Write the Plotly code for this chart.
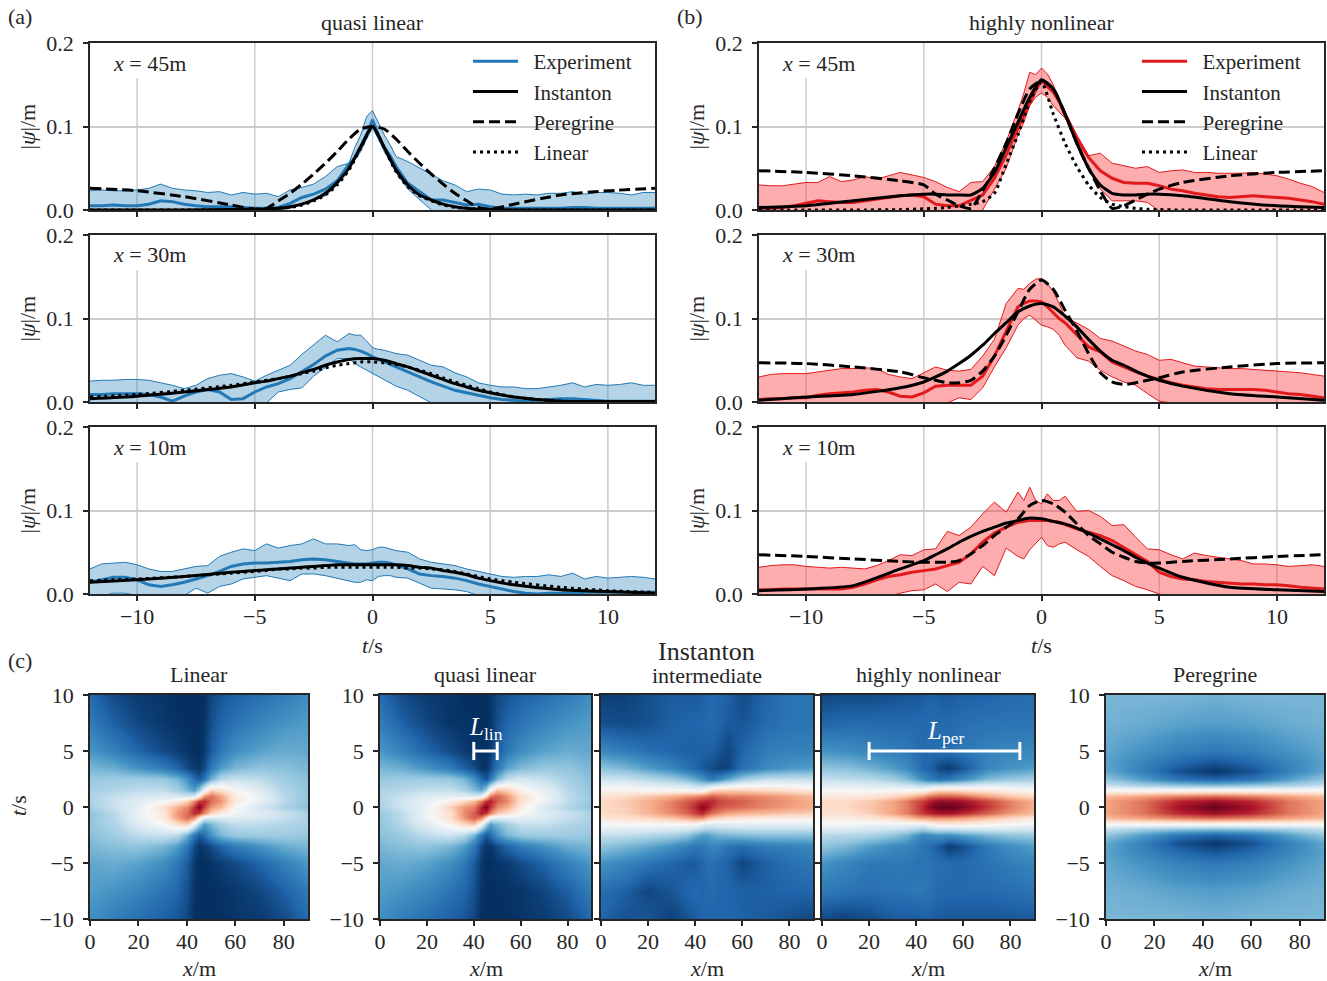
import numpy as np
import plotly.graph_objects as go

W, H = 1327, 981

# time grid of the measured curves (finer around the peak)
T_EXP = [-12, -11.5, -11, -10.5, -10, -9.5, -9, -8.5, -8, -7.5, -7, -6.5, -6, -5.5, -5, -4.5, -4, -3.5, -3, -2.5, -2,
         -1.5, -1, -0.75, -0.5, -0.25, 0, 0.25, 0.5, 0.75, 1, 1.5,
         2, 2.5, 3, 3.5, 4, 4.5, 5, 5.5, 6, 6.5, 7, 7.5, 8, 8.5, 9, 9.5, 10, 10.5, 11, 11.5, 12]
# time grid of the smooth model curves
T_MOD = [-12, -10, -8, -6, -5, -4.5, -4, -3.5, -3, -2.5, -2, -1.5, -1, -0.5, 0,
         0.5, 1, 1.5, 2, 2.5, 3, 3.5, 4, 4.5, 5, 6, 8, 10, 12]

# (a) quasi linear, x = 45m
A45_UP = [.023, .024, .023, .023, .024, .026, .031, .026, .024, .023, .021, .022, .018, .021, .019, .020, .016, .024, .027, .031, .040,
          .052, .056, .075, .090, .112, .119, .105, .090, .078, .064, .058,
          .050, .042, .035, .030, .022, .025, .024, .019, .018, .019, .018, .020, .020, .022, .019, .021, .021, .020, .018, .021, .021]
A45_LO = [-.003, -.003, -.003, -.003, -.003, -.003, -.003, -.003, -.003, -.003, -.003, -.003, -.003, -.003, -.003, -.003, .000, .002, .006, .012, .017,
          .030, .050, .060, .070, .085, .098, .085, .070, .058, .045, .025,
          .012, .000, -.003, -.003, -.003, -.003, -.003, -.003, -.003, -.003, -.003, -.003, -.003, -.003, -.003, -.003, -.003, -.003, -.003, -.003, -.003]
A45_EXP = [.005, .005, .006, .005, .005, .007, .011, .010, .007, .005, .004, .004, .004, .003, .002, .002, .003, .008, .015, .019, .025,
           .035, .055, .062, .075, .090, .108, .090, .075, .065, .052, .032,
           .022, .012, .012, .009, .006, .007, .004, .002, .002, .002, .002, .002, .002, .003, .003, .002, .002, .002, .002, .002, .002]
A45_INST = [.000, .000, .000, .0005, .001, .001, .002, .004, .007, .012, .020, .033, .050, .076, .100,
            .075, .048, .030, .018, .012, .007, .004, .002, .001, .0005, .000, .000, .000, .000]
A45_PER = [.026, .023, .016, .006, .001, .002, .011, .020, .031, .043, .056, .070, .085, .097, .100,
           .097, .085, .070, .056, .043, .031, .020, .011, .003, .001, .007, .018, .023, .026]
A45_LIN = [.000, .000, .000, .0005, .001, .001, .002, .003, .006, .011, .018, .030, .048, .074, .100,
           .074, .046, .028, .017, .011, .006, .003, .002, .001, .0005, .000, .000, .000, .000]

# (a) quasi linear, x = 30m
A30_UP = [.025, .026, .026, .027, .027, .026, .023, .020, .016, .020, .028, .032, .034, .030, .025, .032, .038, .044, .057, .068, .080,
          .072, .082, .080, .080, .073, .065, .063, .062, .060, .058, .056,
          .050, .044, .042, .035, .030, .023, .020, .018, .018, .016, .016, .018, .020, .023, .018, .021, .020, .021, .023, .020, .020]
A30_LO = [-.003, -.003, -.003, -.003, -.003, -.003, -.003, -.003, -.003, -.003, -.003, -.003, -.003, -.003, -.003, -.001, .012, .015, .017, .031, .041,
          .052, .052, .046, .042, .038, .034, .030, .026, .022, .019, .014,
          .007, -.001, -.003, -.003, -.003, -.003, -.003, -.003, -.003, -.003, -.003, -.003, -.003, -.003, -.003, -.003, -.003, -.003, -.003, -.003, -.003]
A30_EXP = [.009, .009, .010, .010, .010, .009, .006, .001, .007, .012, .015, .012, .003, .004, .012, .018, .022, .028, .036, .045, .055,
           .062, .064, .063, .061, .058, .054, .051, .048, .045, .042, .036,
           .030, .024, .019, .014, .011, .008, .005, .003, .002, .001, .002, .003, .004, .004, .003, .002, .001, .001, .001, .001, .001]
A30_INST = [.004, .007, .012, .018, .023, .025, .028, .031, .035, .039, .044, .048, .051, .052, .052,
            .050, .046, .042, .037, .032, .027, .022, .018, .014, .011, .006, .001, .0005, .0005]
A30_LIN = [.006, .009, .014, .020, .024, .026, .028, .031, .034, .037, .041, .044, .046, .048, .048,
           .047, .045, .042, .038, .034, .029, .024, .020, .016, .012, .006, .001, .0003, .0003]

# (a) quasi linear, x = 10m
A10_UP = [.030, .036, .037, .038, .035, .030, .027, .027, .030, .033, .034, .045, .050, .054, .052, .060, .055, .058, .060, .066, .060,
          .060, .058, .059, .053, .052, .053, .056, .056, .054, .052, .050,
          .042, .038, .036, .034, .030, .027, .024, .021, .020, .021, .021, .023, .021, .025, .018, .021, .019, .020, .021, .020, .018]
A10_LO = [-.002, -.002, .001, .001, -.002, -.003, -.003, -.003, -.002, .007, .001, .009, .012, .018, .020, .022, .019, .016, .024, .024, .022,
          .019, .016, .014, .014, .017, .016, .021, .022, .022, .020, .019,
          .013, .007, .006, .005, .003, -.002, -.003, -.003, -.003, -.003, -.003, -.003, -.003, -.003, -.003, -.003, -.003, -.003, -.003, -.003, -.003]
A10_EXP = [.014, .017, .020, .020, .017, .011, .009, .011, .014, .018, .022, .027, .033, .036, .037, .037, .038, .039, .041, .042, .041,
           .039, .037, .036, .036, .036, .037, .038, .038, .037, .035, .030,
           .024, .022, .021, .019, .016, .012, .009, .006, .003, .001, .000, .001, .001, .001, .002, .002, .002, .002, .002, .002, .002]
A10_INST = [.014, .017, .021, .026, .028, .029, .030, .031, .032, .033, .034, .035, .035, .035, .035,
            .035, .035, .034, .032, .031, .028, .026, .023, .019, .016, .011, .005, .003, .001]
A10_LIN = [.016, .018, .021, .025, .027, .028, .030, .030, .031, .031, .032, .032, .032, .032, .032,
           .032, .032, .031, .031, .030, .029, .027, .024, .021, .018, .014, .008, .004, .002]

# (b) highly nonlinear, x = 45m
B45_UP = [.030, .029, .029, .031, .033, .033, .040, .034, .036, .040, .037, .041, .045, .042, .039, .034, .027, .022, .033, .034, .052,
          .082, .119, .140, .165, .162, .170, .163, .150, .132, .118, .090,
          .065, .068, .056, .053, .050, .052, .045, .047, .048, .045, .045, .044, .044, .044, .045, .043, .041, .037, .032, .028, .021]
B45_LO = [-.003, -.003, -.003, -.003, -.003, -.003, -.003, -.003, -.003, -.003, -.003, -.003, -.003, -.003, -.003, -.003, -.003, -.003, -.003, .000, .025,
          .050, .090, .105, .125, .135, .140, .135, .125, .118, .110, .085,
          .050, .025, .011, .011, .011, .009, -.001, -.003, -.003, -.003, -.003, -.003, -.003, -.003, -.003, -.003, -.003, -.003, -.003, -.003, -.003]
B45_EXP = [.002, .002, .003, .005, .008, .011, .010, .009, .009, .011, .013, .015, .017, .018, .016, .007, .005, .005, .012, .018, .038,
           .066, .098, .112, .128, .143, .155, .148, .141, .130, .114, .086,
           .063, .047, .038, .033, .032, .032, .029, .025, .023, .020, .018, .016, .015, .016, .017, .016, .015, .014, .012, .010, .007]
B45_INST = [.003, .005, .011, .017, .019, .019, .018, .018, .018, .026, .045, .075, .105, .135, .156,
            .145, .115, .080, .050, .030, .020, .018, .018, .019, .019, .017, .010, .005, .003]
B45_PER = [.047, .045, .041, .035, .030, .019, .012, .005, .002, .023, .050, .080, .115, .145, .155,
           .145, .115, .080, .050, .023, .002, .005, .012, .019, .025, .033, .041, .045, .047]
B45_LIN = [.000, .000, .000, .0005, .0015, .002, .003, .005, .007, .010, .020, .055, .090, .130, .153,
           .115, .080, .052, .030, .015, .007, .004, .002, .001, .0005, .000, .000, .000, .000]

# (b) highly nonlinear, x = 30m
B30_UP = [.030, .033, .034, .034, .034, .036, .038, .040, .040, .041, .040, .033, .030, .028, .035, .042, .038, .037, .039, .055, .075,
          .118, .136, .135, .142, .147, .148, .142, .132, .118, .102, .095,
          .087, .076, .073, .067, .061, .057, .050, .051, .047, .043, .042, .041, .040, .040, .039, .038, .037, .036, .035, .033, .031]
B30_LO = [-.003, -.003, -.003, -.003, -.003, -.003, -.003, -.003, -.003, -.003, -.003, -.003, -.003, -.003, -.003, -.003, -.001, .005, .003, .017, .042,
          .065, .092, .100, .104, .098, .092, .090, .087, .080, .068, .053,
          .049, .038, .030, .024, .020, .010, .001, -.001, -.003, -.003, -.003, -.003, -.003, -.003, -.003, -.003, -.003, -.003, -.003, -.003, -.003]
B30_EXP = [.003, .004, .004, .005, .005, .008, .010, .011, .012, .014, .015, .012, .007, .006, .011, .019, .020, .020, .020, .031, .055,
           .085, .114, .118, .121, .121, .120, .114, .107, .100, .095, .080,
           .066, .060, .048, .042, .036, .031, .027, .023, .020, .018, .016, .015, .015, .015, .015, .014, .012, .010, .009, .007, .005]
B30_INST = [.002, .006, .009, .017, .024, .030, .037, .046, .056, .068, .082, .095, .108, .115, .118,
            .114, .103, .090, .075, .061, .050, .044, .037, .031, .026, .019, .010, .006, .002]
B30_PER = [.047, .046, .042, .036, .029, .026, .023, .023, .026, .037, .055, .080, .108, .135, .146,
           .135, .110, .085, .058, .035, .024, .021, .023, .026, .029, .036, .042, .046, .047]

# (b) highly nonlinear, x = 10m
B10_UP = [.032, .034, .035, .035, .033, .032, .031, .032, .031, .030, .034, .040, .047, .046, .053, .054, .075, .070, .080, .096, .110,
          .098, .122, .112, .128, .112, .108, .120, .112, .112, .117, .099,
          .100, .093, .082, .083, .068, .054, .053, .047, .042, .049, .046, .044, .042, .040, .036, .036, .035, .033, .034, .035, .033]
B10_LO = [-.003, -.003, -.003, -.003, -.003, -.003, -.003, -.003, -.003, -.003, -.003, -.003, .001, .004, .005, .012, .003, .014, .012, .033, .022,
          .055, .045, .042, .053, .060, .068, .058, .056, .060, .062, .053,
          .045, .033, .022, .016, .009, .005, .000, -.003, -.003, -.003, -.003, -.003, -.003, -.003, -.003, -.003, -.003, -.003, -.003, -.003, -.003]
B10_EXP = [.005, .005, .006, .006, .006, .006, .006, .006, .008, .012, .017, .021, .023, .026, .028, .030, .034, .038, .048, .062, .073,
           .080, .086, .087, .088, .088, .088, .088, .087, .086, .083, .078,
           .074, .070, .064, .056, .047, .039, .026, .021, .018, .017, .015, .014, .013, .012, .012, .011, .011, .010, .008, .007, .006]
B10_INST = [.004, .006, .010, .030, .040, .047, .054, .062, .069, .075, .080, .085, .088, .091, .090,
            .087, .084, .079, .073, .066, .059, .052, .044, .037, .031, .020, .008, .005, .003]
B10_PER = [.047, .045, .042, .039, .038, .038, .038, .040, .048, .058, .070, .080, .090, .106, .112,
           .108, .098, .084, .070, .060, .050, .044, .039, .037, .037, .039, .042, .045, .047]

# field maps, rows from t = 10 down to t = -10
X_MAP = [0, 10, 20, 30, 36, 40, 43, 45, 47, 50, 54, 60, 70, 80, 90]
T_MAP = [10, 7.5, 5, 3.5, 2.5, 1.5, 1, 0.5, 0, -0.5, -1, -1.5, -2.5, -3.5, -5, -7.5, -10]

Z_LINEAR = [
    [.11, .05, .02, .01, .00, .00, .00, .00, .00, .04, .07, .09, .12, .15, .19],
    [.15, .09, .04, .015, .005, .00, .00, .00, .01, .06, .10, .13, .17, .20, .22],
    [.21, .16, .10, .05, .025, .01, .00, .00, .02, .08, .14, .19, .23, .25, .24],
    [.27, .25, .20, .15, .10, .05, .02, .01, .05, .14, .22, .27, .30, .29, .27],
    [.31, .32, .32, .31, .27, .20, .12, .08, .14, .26, .36, .39, .37, .32, .29],
    [.33, .35, .37, .37, .33, .27, .22, .32, .46, .62, .58, .50, .43, .35, .30],
    [.34, .38, .41, .43, .42, .40, .42, .55, .72, .78, .70, .55, .46, .36, .30],
    [.34, .39, .44, .48, .55, .62, .74, .85, .88, .78, .72, .55, .46, .36, .30],
    [.33, .39, .45, .58, .68, .74, .86, .97, .84, .72, .66, .50, .41, .34, .29],
    [.30, .36, .46, .55, .72, .78, .88, .85, .74, .62, .55, .48, .44, .39, .34],
    [.30, .36, .46, .55, .70, .78, .72, .55, .42, .40, .42, .43, .41, .38, .34],
    [.30, .35, .43, .50, .58, .62, .46, .32, .22, .27, .33, .37, .37, .35, .33],
    [.29, .32, .37, .39, .36, .26, .14, .08, .12, .20, .27, .31, .32, .32, .31],
    [.27, .29, .30, .27, .22, .14, .05, .01, .02, .05, .10, .15, .20, .25, .27],
    [.24, .25, .23, .19, .14, .08, .02, .00, .00, .01, .025, .05, .10, .16, .21],
    [.22, .20, .17, .13, .10, .06, .01, .00, .00, .00, .005, .015, .04, .09, .15],
    [.19, .15, .12, .09, .07, .04, .00, .00, .00, .00, .00, .01, .02, .05, .11],
]
Z_QUASI = [
    [.11, .05, .02, .01, .00, .00, .00, .00, .01, .04, .07, .09, .12, .15, .19],
    [.15, .09, .04, .01, .005, .00, .00, .00, .01, .06, .10, .13, .17, .20, .22],
    [.21, .16, .10, .05, .02, .01, .00, .00, .02, .08, .14, .19, .23, .25, .24],
    [.27, .25, .20, .15, .09, .05, .01, .01, .05, .14, .23, .28, .31, .30, .27],
    [.31, .32, .32, .31, .27, .20, .11, .07, .14, .27, .38, .41, .38, .33, .29],
    [.34, .36, .38, .38, .34, .28, .24, .34, .50, .66, .62, .52, .45, .36, .30],
    [.35, .39, .43, .45, .44, .43, .46, .60, .76, .80, .72, .58, .48, .37, .31],
    [.35, .40, .46, .52, .60, .66, .76, .86, .90, .80, .74, .58, .47, .37, .31],
    [.34, .40, .47, .62, .72, .76, .88, .98, .86, .74, .68, .54, .42, .35, .30],
    [.31, .37, .48, .58, .74, .80, .90, .86, .76, .64, .58, .50, .44, .39, .34],
    [.31, .37, .48, .58, .72, .80, .74, .58, .44, .42, .44, .45, .42, .38, .34],
    [.30, .36, .44, .52, .60, .64, .48, .32, .22, .27, .33, .38, .38, .35, .33],
    [.29, .32, .37, .40, .36, .26, .14, .07, .11, .20, .27, .31, .32, .32, .31],
    [.27, .29, .30, .27, .22, .14, .05, .01, .01, .05, .10, .15, .20, .25, .27],
    [.24, .25, .23, .19, .14, .08, .02, .00, .00, .01, .02, .05, .10, .16, .21],
    [.22, .20, .17, .13, .10, .06, .01, .00, .00, .00, .005, .01, .04, .09, .15],
    [.19, .15, .12, .09, .07, .04, .00, .00, .00, .00, .00, .01, .02, .05, .11],
]
Z_INTER = [
    [.03, .03, .06, .08, .08, .08, .09, .10, .11, .10, .09, .05, .10, .13, .13],
    [.06, .05, .06, .09, .10, .10, .10, .11, .11, .10, .08, .07, .11, .13, .13],
    [.18, .15, .12, .10, .09, .09, .09, .09, .09, .07, .04, .10, .15, .16, .16],
    [.30, .27, .22, .17, .13, .10, .08, .06, .05, .03, .04, .12, .18, .21, .22],
    [.40, .39, .36, .32, .28, .24, .20, .16, .14, .18, .24, .32, .38, .38, .38],
    [.52, .52, .50, .50, .50, .48, .48, .54, .60, .62, .62, .62, .60, .58, .55],
    [.58, .60, .64, .68, .72, .74, .76, .78, .80, .78, .76, .76, .73, .70, .66],
    [.60, .63, .68, .75, .80, .84, .87, .88, .88, .84, .82, .80, .75, .72, .68],
    [.60, .62, .68, .76, .82, .88, .96, .92, .86, .82, .80, .78, .74, .71, .68],
    [.60, .62, .67, .74, .79, .84, .88, .82, .78, .74, .70, .68, .66, .64, .62],
    [.56, .58, .60, .64, .68, .72, .72, .66, .62, .60, .58, .56, .54, .54, .53],
    [.50, .50, .50, .50, .50, .50, .46, .44, .43, .44, .44, .45, .45, .45, .45],
    [.38, .37, .35, .33, .30, .25, .22, .22, .24, .26, .27, .28, .29, .29, .29],
    [.30, .27, .24, .19, .16, .14, .14, .16, .17, .16, .13, .12, .15, .16, .17],
    [.20, .17, .13, .10, .08, .08, .10, .12, .12, .11, .09, .04, .09, .12, .14],
    [.12, .09, .04, .07, .10, .11, .10, .11, .11, .10, .10, .09, .09, .10, .10],
    [.10, .06, .07, .03, .06, .08, .10, .10, .10, .10, .10, .09, .08, .06, .04],
]
Z_HIGHLY = [
    [.04, .05, .05, .06, .07, .07, .08, .09, .09, .08, .08, .09, .10, .11, .12],
    [.10, .11, .11, .11, .11, .11, .11, .11, .12, .11, .11, .12, .13, .13, .13],
    [.20, .19, .17, .15, .14, .12, .11, .11, .11, .12, .12, .14, .16, .17, .17],
    [.30, .29, .26, .22, .18, .14, .10, .10, .08, .04, .02, .07, .17, .20, .22],
    [.38, .37, .36, .32, .28, .23, .19, .15, .14, .12, .14, .19, .28, .31, .33],
    [.50, .50, .49, .50, .50, .50, .50, .54, .58, .60, .60, .58, .56, .53, .50],
    [.55, .55, .56, .60, .64, .68, .72, .76, .78, .80, .80, .78, .70, .64, .60],
    [.60, .60, .63, .70, .76, .82, .85, .88, .92, .94, .94, .92, .84, .75, .68],
    [.60, .60, .64, .70, .76, .82, .88, .94, .97, 1.0, 1.0, .97, .86, .76, .68],
    [.58, .58, .62, .70, .76, .82, .86, .88, .90, .92, .92, .88, .80, .72, .66],
    [.54, .54, .56, .60, .64, .68, .70, .70, .72, .72, .72, .70, .65, .60, .56],
    [.49, .49, .47, .47, .47, .47, .46, .50, .52, .54, .54, .54, .52, .50, .48],
    [.36, .35, .34, .30, .26, .20, .17, .18, .19, .20, .19, .22, .27, .30, .31],
    [.30, .27, .22, .18, .17, .15, .13, .12, .10, .07, .02, .06, .14, .19, .22],
    [.20, .17, .14, .14, .14, .13, .13, .13, .12, .12, .11, .11, .13, .15, .17],
    [.14, .13, .12, .13, .13, .14, .14, .13, .12, .11, .11, .11, .11, .12, .13],
    [.05, .03, .05, .08, .08, .08, .09, .09, .08, .08, .07, .07, .07, .07, .08],
]
X_PER = [0, 15, 30, 45, 60, 75, 90]
T_PER = [10, 7.5, 5, 4, 3.2, 2.5, 2, 1.5, 1, 0.5, 0, -0.5, -1, -1.5, -2, -2.5, -3.2, -4, -5, -7.5, -10]
Z_PER = [
    [.27, .27, .27, .26, .27, .27, .27],
    [.26, .25, .23, .22, .23, .25, .26],
    [.24, .20, .16, .14, .16, .20, .24],
    [.23, .17, .11, .07, .11, .17, .23],
    [.24, .16, .06, .01, .06, .16, .24],
    [.30, .22, .13, .10, .13, .22, .30],
    [.38, .33, .30, .28, .30, .33, .38],
    [.50, .50, .50, .50, .50, .50, .50],
    [.66, .70, .75, .78, .75, .70, .66],
    [.70, .77, .88, .93, .88, .77, .70],
    [.70, .77, .92, 1.0, .92, .77, .70],
    [.70, .77, .88, .93, .88, .77, .70],
    [.66, .70, .75, .78, .75, .70, .66],
    [.50, .50, .50, .50, .50, .50, .50],
    [.38, .33, .30, .28, .30, .33, .38],
    [.30, .22, .13, .10, .13, .22, .30],
    [.24, .16, .06, .01, .06, .16, .24],
    [.23, .17, .11, .07, .11, .17, .23],
    [.24, .20, .16, .14, .16, .20, .24],
    [.26, .25, .23, .22, .23, .25, .26],
    [.27, .27, .27, .26, .27, .27, .27],
]

# length scale bars
L_LIN_X = [40, 50]
L_LIN_T = [5, 5]
L_PER_X = [20, 84]
L_PER_T = [5, 5]

T_TICKS = [-10, -5, 0, 5, 10]
PSI_TICKS = [0, 0.1, 0.2]
X_TICKS = [0, 20, 40, 60, 80]

INK = '#262626'
GRID = '#cccccc'
BLUE = '#2379b5'
RED = '#e31a1c'
BLUE_FILL = 'rgba(31,120,180,0.33)'
RED_FILL = 'rgba(251,60,62,0.42)'
FONT = 'Liberation Serif'
FS = 22
RDBU_R = [[0.0, '#053061'], [0.1, '#2166ac'], [0.2, '#4393c3'], [0.3, '#92c5de'], [0.4, '#d1e5f0'], [0.5, '#f7f7f7'],
          [0.6, '#fddbc7'], [0.7, '#f4a582'], [0.8, '#d6604d'], [0.9, '#b2182b'], [1.0, '#67001f']]

fig = go.Figure()


def domain(left, top, right, bottom):
    return [left / W, right / W], [1 - bottom / H, 1 - top / H]


def axis_style(**kw):
    return dict(showline=True, mirror=True, linecolor=INK, linewidth=1.6, ticks='outside', ticklen=5, tickwidth=1.5,
                tickcolor=INK, tickfont=dict(family=FONT, size=FS, color=INK), zeroline=False, showgrid=False,
                automargin=False, **kw)


def page_text(px, py, text, anchor='center', size=FS, color=INK, angle=0):
    fig.add_annotation(x=px / W, y=1 - py / H, xref='paper', yref='paper', text=text, showarrow=False, xanchor=anchor,
                       yanchor='middle', textangle=angle, font=dict(family=FONT, size=size, color=color))


def add_line_panel(n, box, color, fill, up, lo, exp, inst, per, lin, label, with_legend, bottom, legend_name):
    ax = '' if n == 1 else str(n)
    xref, yref = 'x' + ax, 'y' + ax
    dx, dy = domain(*box)
    xa = axis_style(domain=dx, range=[-12, 12], tickvals=T_TICKS, anchor=yref, showticklabels=bottom, ticklabelstandoff=-3)
    ya = axis_style(domain=dy, range=[0, 0.2], tickvals=PSI_TICKS, tickformat='.1f', anchor=xref, ticklabelstandoff=5)
    ya['showgrid'] = True
    ya['gridcolor'] = GRID
    ya['gridwidth'] = 1.5
    fig.update_layout({'xaxis' + ax: xa, 'yaxis' + ax: ya})

    # the legend hides the two right grid lines of the top panels, the label box cuts the left one short
    for t in (T_TICKS[:3] if with_legend else T_TICKS):
        fig.add_shape(type='line', x0=t, x1=t, y0=0, y1=0.158 if t == -10 else 0.2, xref=xref, yref=yref,
                      line=dict(color=GRID, width=1.5), layer='below')

    common = dict(xaxis=xref, yaxis=yref, hoverinfo='skip')
    fig.add_trace(go.Scatter(x=T_EXP, y=up, mode='lines', line=dict(color=color, width=1), showlegend=False, **common))
    fig.add_trace(go.Scatter(x=T_EXP, y=lo, mode='lines', line=dict(color=color, width=1), fill='tonexty',
                             fillcolor=fill, showlegend=False, **common))

    def legend_args(name):
        # the no-break space pushes the text away from the line sample
        return dict(name='\u2002' + name, showlegend=with_legend, legend=legend_name, legendgroup=legend_name + name)

    fig.add_trace(go.Scatter(x=T_EXP, y=exp, mode='lines', line=dict(color=color, width=3),
                             **legend_args('Experiment'), **common))
    fig.add_trace(go.Scatter(x=T_MOD, y=inst, mode='lines', line=dict(color='black', width=3, shape='spline', smoothing=0.6),
                             **legend_args('Instanton'), **common))
    if per is not None:
        fig.add_trace(go.Scatter(x=T_MOD, y=per, mode='lines', line=dict(color='black', width=3, dash='11px,5px', shape='spline', smoothing=0.6),
                                 **legend_args('Peregrine'), **common))
    if lin is not None:
        fig.add_trace(go.Scatter(x=T_MOD, y=lin, mode='lines', line=dict(color='black', width=3, dash='3px,4px', shape='spline', smoothing=0.6),
                                 **legend_args('Linear'), **common))

    page_text(box[0] + 21, box[1] + 20, label, anchor='left')
    # y label sits at the same distance from every panel
    page_text(box[0] - 63, (box[1] + box[3]) / 2, '|<i>ψ</i>|/m', angle=-90)
    if bottom:
        page_text((box[0] + box[2]) / 2, box[3] + 51, '<i>t</i>/s')


def add_map_panel(n, box, x, t, z, y_labels):
    ax = str(n)
    xref, yref = 'x' + ax, 'y' + ax
    dx, dy = domain(*box)
    xa = axis_style(domain=dx, range=[0, 90], tickvals=X_TICKS, anchor=yref, ticklabelstandoff=-3)
    ya = axis_style(domain=dy, range=[-10, 10], tickvals=T_TICKS, anchor=xref, showticklabels=y_labels, ticklabelstandoff=5)
    fig.update_layout({'xaxis' + ax: xa, 'yaxis' + ax: ya})
    fig.add_trace(go.Heatmap(x=x, y=t[::-1], z=np.array(z)[::-1], colorscale=RDBU_R, zmin=0, zmax=1, zsmooth='best',
                             showscale=False, xaxis=xref, yaxis=yref, hoverinfo='skip'))
    page_text((box[0] + box[2]) / 2, box[3] + 49, '<i>x</i>/m')


add_line_panel(1, (90, 43, 655, 210), BLUE, BLUE_FILL, A45_UP, A45_LO, A45_EXP, A45_INST, A45_PER, A45_LIN, '<i>x</i> = 45m', True, False, 'legend')
add_line_panel(2, (90, 235, 655, 402), BLUE, BLUE_FILL, A30_UP, A30_LO, A30_EXP, A30_INST, None, A30_LIN, '<i>x</i> = 30m', False, False, 'legend')
add_line_panel(3, (90, 427, 655, 594), BLUE, BLUE_FILL, A10_UP, A10_LO, A10_EXP, A10_INST, None, A10_LIN, '<i>x</i> = 10m', False, True, 'legend')
add_line_panel(4, (759, 43, 1324, 210), RED, RED_FILL, B45_UP, B45_LO, B45_EXP, B45_INST, B45_PER, B45_LIN, '<i>x</i> = 45m', True, False, 'legend2')
add_line_panel(5, (759, 235, 1324, 402), RED, RED_FILL, B30_UP, B30_LO, B30_EXP, B30_INST, B30_PER, None, '<i>x</i> = 30m', False, False, 'legend2')
add_line_panel(6, (759, 427, 1324, 594), RED, RED_FILL, B10_UP, B10_LO, B10_EXP, B10_INST, B10_PER, None, '<i>x</i> = 10m', False, True, 'legend2')

add_map_panel(7, (90, 695, 308, 919), X_MAP, T_MAP, Z_LINEAR, True)
add_map_panel(8, (380, 695, 591, 919), X_MAP, T_MAP, Z_QUASI, True)
add_map_panel(9, (601, 695, 813, 919), X_MAP, T_MAP, Z_INTER, False)
add_map_panel(10, (822, 695, 1034, 919), X_MAP, T_MAP, Z_HIGHLY, False)
add_map_panel(11, (1106, 695, 1324, 919), X_PER, T_PER, Z_PER, True)

page_text(18, 806, '<i>t</i>/s', angle=-90)

for bar_x, bar_t, xref, yref in [(L_LIN_X, L_LIN_T, 'x8', 'y8'), (L_PER_X, L_PER_T, 'x10', 'y10')]:
    fig.add_trace(go.Scatter(x=bar_x, y=bar_t, mode='lines+markers', line=dict(color='white', width=3),
                             marker=dict(symbol='line-ns', size=13, color='white', line=dict(color='white', width=3)),
                             showlegend=False, xaxis=xref, yaxis=yref, hoverinfo='skip'))

# panel titles and other text, placed in pixels of the page
page_text(6, 16, '(a)', anchor='left')
page_text(675, 16, '(b)', anchor='left')
page_text(6, 660, '(c)', anchor='left')
page_text(372, 23, 'quasi linear')
page_text(1041, 23, 'highly nonlinear')
page_text(199, 674, 'Linear')
page_text(485, 674, 'quasi linear')
page_text(706, 651, 'Instanton', size=26)
page_text(707, 675, 'intermediate')
page_text(928, 674, 'highly nonlinear')
page_text(1215, 674, 'Peregrine')
page_text(486, 728, '<i>L</i><sub>lin</sub>', size=25, color='white')
page_text(945, 732, '<i>L</i><sub>per</sub>', size=25, color='white')

legend_style = dict(bgcolor='rgba(0,0,0,0)', font=dict(family=FONT, size=21, color=INK), itemwidth=45,
                    tracegroupgap=0, xanchor='left', yanchor='top', y=1 - 41 / H)
fig.update_layout(
    width=W, height=H, margin=dict(l=0, r=0, t=0, b=0), paper_bgcolor='white', plot_bgcolor='white',
    legend=dict(x=468 / W, **legend_style), legend2=dict(x=1137 / W, **legend_style),
)

fig.write_html("out.html", config=dict(displayModeBar=False), post_script="document.body.style.margin='0';")
